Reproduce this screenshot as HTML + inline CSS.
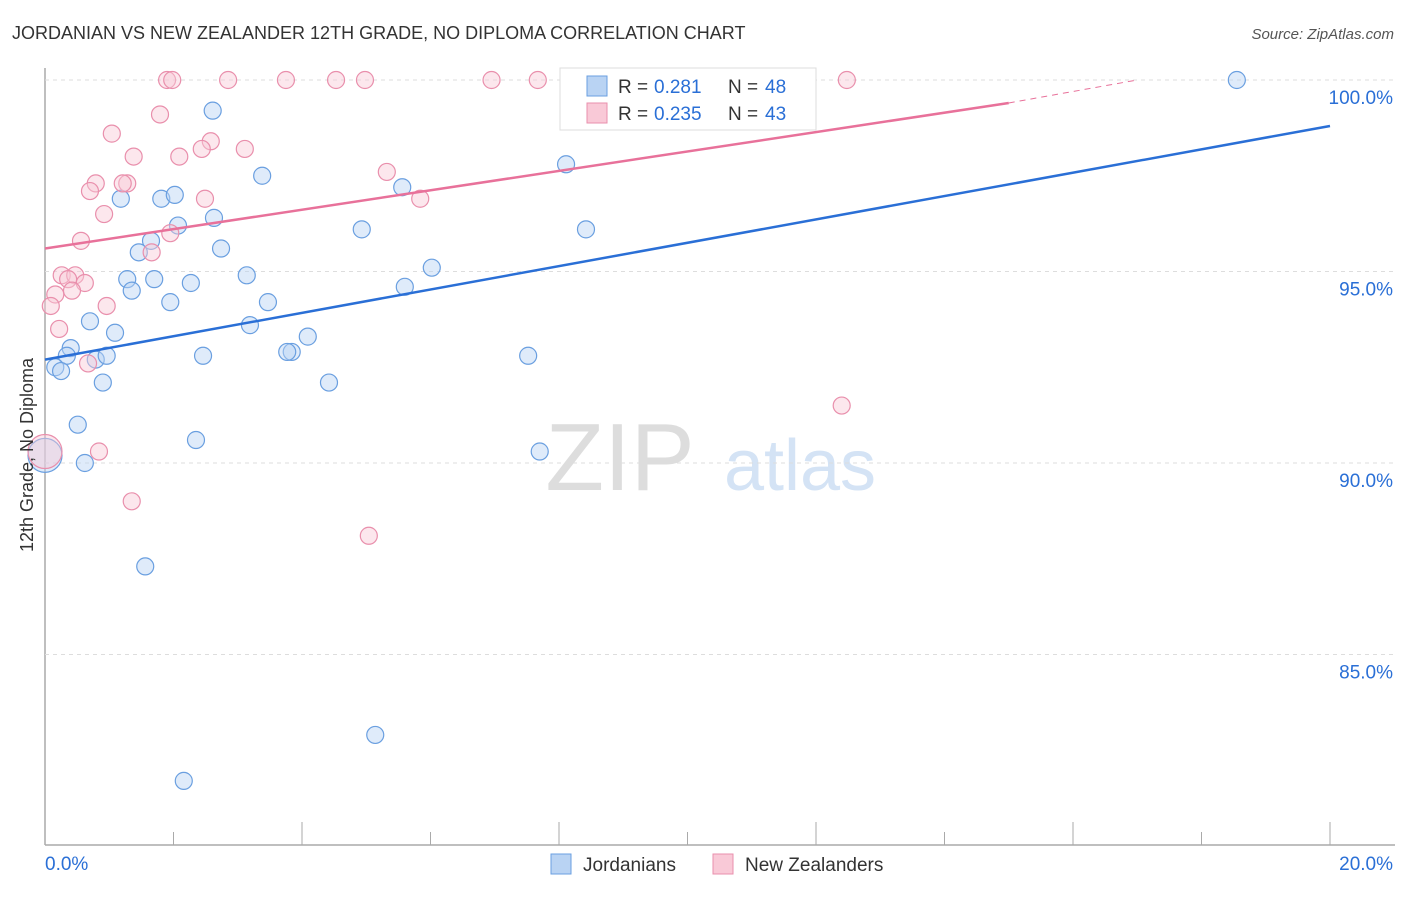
<!DOCTYPE html>
<html><head><meta charset="utf-8"><style>
body{margin:0;background:#fff;font-family:"Liberation Sans",sans-serif}
svg text{font-family:"Liberation Sans",sans-serif}
</style></head><body>
<svg id="c" width="1406" height="892">
<text x="12" y="39" font-size="18" fill="#333">JORDANIAN VS NEW ZEALANDER 12TH GRADE, NO DIPLOMA CORRELATION CHART</text>
<text x="1394" y="39" font-size="15" fill="#555" text-anchor="end" font-style="italic">Source: ZipAtlas.com</text>
<text x="620" y="490" font-size="96" fill="#ddd" font-family="Liberation Serif" text-anchor="middle">ZIP</text>
<text x="800" y="490" font-size="72" fill="#d4e3f5" text-anchor="middle">atlas</text>
<g id="grid"></g><g id="pts"></g><g id="lines"></g>
<text x="28" y="455" font-size="18" fill="#333" text-anchor="middle" dominant-baseline="middle" transform="rotate(-90 28 455)">12th Grade, No Diploma</text>
<g>
<rect x="560" y="68" width="256" height="62" fill="#fff" stroke="#ddd"/>
<rect x="587" y="76" width="20" height="20" fill="#b9d3f3" stroke="#6a9fe0"/>
<text x="618" y="93" font-size="19" fill="#333">R =</text>
<text x="654" y="93" font-size="19" fill="#2a6fd6">0.281</text>
<text x="728" y="93" font-size="19" fill="#333">N =</text>
<text x="765" y="93" font-size="19" fill="#2a6fd6">48</text>
<rect x="587" y="103" width="20" height="20" fill="#f9c9d7" stroke="#e98fac"/>
<text x="618" y="120" font-size="19" fill="#333">R =</text>
<text x="654" y="120" font-size="19" fill="#2a6fd6">0.235</text>
<text x="728" y="120" font-size="19" fill="#333">N =</text>
<text x="765" y="120" font-size="19" fill="#2a6fd6">43</text>
</g>
<g>
<rect x="551" y="854" width="20" height="20" fill="#b9d3f3" stroke="#6a9fe0"/>
<text x="583" y="871" font-size="19" fill="#333">Jordanians</text>
<rect x="713" y="854" width="20" height="20" fill="#f9c9d7" stroke="#e98fac"/>
<text x="745" y="871" font-size="19" fill="#333">New Zealanders</text>
</g>
</svg>
<script>
const yTicks=[100,95,90,85];
const xTickLabels=["0.0%","20.0%"];
const blueX=[2.61,3.38,8.11,5.56,1.81,2.02,1.18,2.63,2.07,4.93,8.42,1.65,2.74,1.46,3.14,6.02,1.28,1.70,2.27,1.35,5.60,1.95,3.47,0.70,3.19,1.09,4.09,0.40,0.34,0.79,0.96,2.46,3.84,3.77,7.52,0.16,0.25,0.90,4.42,0.51,2.35,7.70,0.62,0.0,1.56,5.14,2.16,18.55];
const blueY=[99.2,97.5,97.8,97.2,96.9,97.0,96.9,96.4,96.2,96.1,96.1,95.8,95.6,95.5,94.9,95.1,94.8,94.8,94.7,94.5,94.6,94.2,94.2,93.7,93.6,93.4,93.3,93.0,92.8,92.7,92.8,92.8,92.9,92.9,92.8,92.5,92.4,92.1,92.1,91.0,90.6,90.3,90.0,90.2,87.3,82.9,81.7,100.0];
const pinkX=[1.90,1.98,2.85,3.75,4.53,4.98,6.95,7.67,12.48,1.79,1.04,2.58,2.44,3.11,1.38,2.09,5.32,0.79,1.28,1.21,0.70,2.49,5.84,0.92,1.95,0.56,1.66,0.26,0.47,0.36,0.62,0.42,0.16,0.09,0.96,0.22,0.67,12.40,0.84,1.35,5.04,0.0];
const pinkY=[100,100,100,100,100,100,100,100,100,99.1,98.6,98.4,98.2,98.2,98.0,98.0,97.6,97.3,97.3,97.3,97.1,96.9,96.9,96.5,96.0,95.8,95.5,94.9,94.9,94.8,94.7,94.5,94.4,94.1,94.1,93.5,92.6,91.5,90.3,89.0,88.1,90.3];
const blueLine=[[0,92.7],[20,98.8]];
const pinkLine=[[0,95.6],[15,99.4]];
const pinkDash=[[15,99.4],[17.0,100.0]];
const X=v=>45+v/20*1285, Y=v=>80+(100-v)*38.3;
const NS="http://www.w3.org/2000/svg";
function mk(t,a,p){const e=document.createElementNS(NS,t);for(const k in a)e.setAttribute(k,a[k]);document.getElementById(p).appendChild(e);return e;}
const ax=mk('line',{x1:45,y1:68,x2:45,y2:845,stroke:'#aaa','stroke-width':1.5},'grid');

const bx=mk('line',{x1:45,y1:845,x2:1395,y2:845,stroke:'#aaa','stroke-width':1.5},'grid');

for(let i=0;i<=10;i++){const t=mk('line',{x1:X(i*2),x2:X(i*2),y1:845,y2:i%2?832:822,stroke:'#aaa'},'grid');
}
yTicks.forEach(v=>{const g=mk('line',{x1:45,x2:1395,y1:Y(v),y2:Y(v),stroke:'#ddd','stroke-dasharray':'4,4'},'grid');

const t=mk('text',{x:1393,y:Y(v)+24,'font-size':19,fill:'#2a6fd6','text-anchor':'end'},'grid');t.textContent=v.toFixed(1)+'%';
});
xTickLabels.forEach((s,i)=>{const t=mk('text',{x:i?1393:45,y:870,'font-size':19,fill:'#2a6fd6','text-anchor':i?'end':'start'},'grid');t.textContent=s;
});
function pts(xs,ys,f,s,n){xs.forEach((x,i)=>{const big=(x===0&&(ys[i]===90.2||ys[i]===90.3));
const c=mk('circle',{cx:X(x),cy:Y(ys[i]),r:big?17:8.5,fill:f,'fill-opacity':0.45,stroke:s,'stroke-width':1.2},'pts');
});}
pts(blueX,blueY,'#b9d3f3','#6a9fe0','jordanian-point');
pts(pinkX,pinkY,'#f9c9d7','#e98fac','new-zealander-point');
function ln(p,col,n,d){const l=mk('line',{x1:X(p[0][0]),y1:Y(p[0][1]),x2:X(p[1][0]),y2:Y(p[1][1]),stroke:col,'stroke-width':d?1:2.5,'stroke-dasharray':d?'6,5':'none'},'lines');
}
ln(blueLine,'#2a6fd6','jordanian-trendline');
ln(pinkLine,'#e8719a','new-zealander-trendline');
ln(pinkDash,'#e8719a','new-zealander-trendline-extension',1);
</script>
</body></html>
